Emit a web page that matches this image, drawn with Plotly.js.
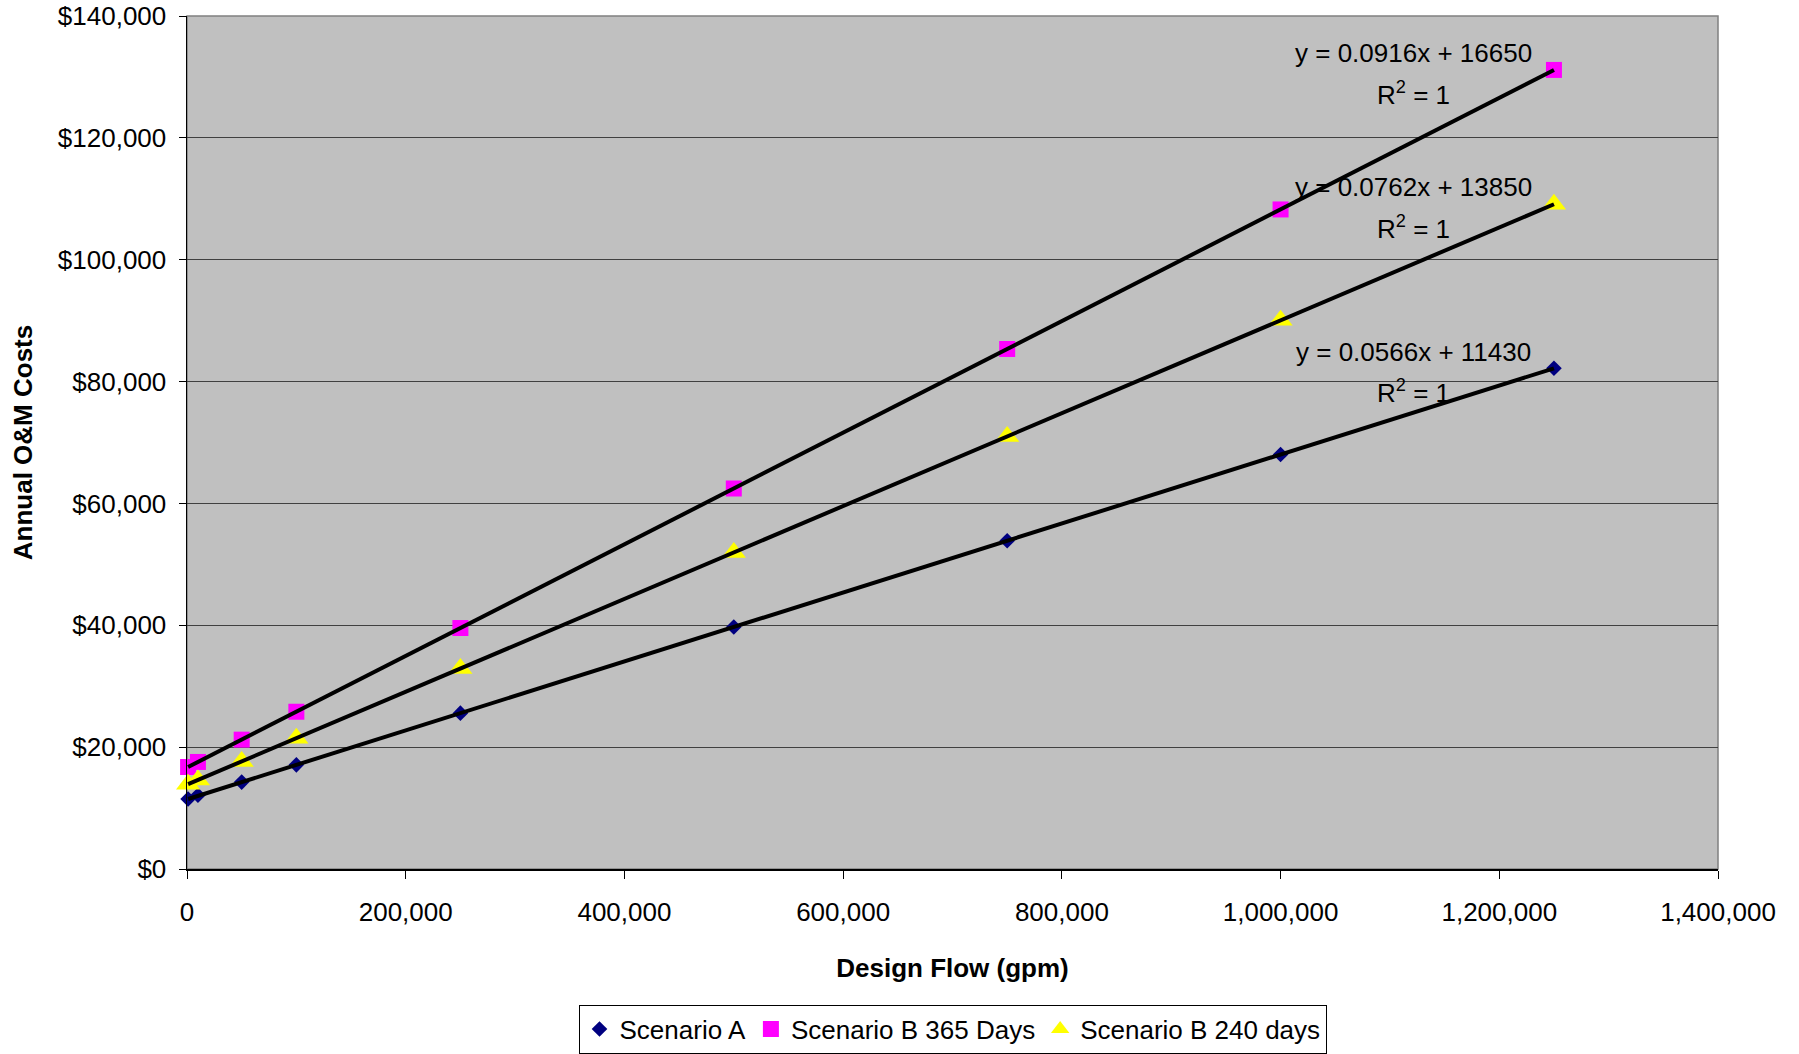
<!DOCTYPE html>
<html>
<head>
<meta charset="utf-8">
<script src="https://cdn.plot.ly/plotly-3.0.1.min.js"></script>
<style>html,body{margin:0;padding:0;background:#fff;}#chart{width:1799px;height:1054px;}</style>
</head>
<body>
<div id="chart"></div>
<script>
// ---- data ----
const designFlow = [1000, 10000, 50000, 100000, 250000, 500000, 750000, 1000000, 1250000];
const scenarioA = [11490, 12100, 14260, 17090, 25580, 39730, 53880, 68030, 82180];
const scenarioB365 = [16740, 17570, 21230, 25810, 39550, 62450, 85350, 108250, 131150];
const scenarioB240 = [13930, 14610, 17660, 21470, 32900, 51950, 71000, 90050, 109100];
const seriesNames = ["Scenario A", "Scenario B 365 Days", "Scenario B 240 days"];
const trendSlopes = [0.0566, 0.0916, 0.0762];
const trendIntercepts = [11430, 16650, 13850];
const equationLabels = ["y = 0.0566x + 11430", "y = 0.0916x + 16650", "y = 0.0762x + 13850"];
const r2Labels = ["R<sup>2</sup> = 1", "R<sup>2</sup> = 1", "R<sup>2</sup> = 1"];
const equationPosX = [1122000, 1122000, 1122000];
const equationPosY = [84850, 133930, 111930];
const r2PosY = [78290, 127360, 105370];
const xTitle = "Design Flow (gpm)";
const yTitle = "Annual O&M Costs";

const FONT = "Liberation Sans, Arial, Helvetica, sans-serif";
const markerStyles = [
  {symbol: "diamond", color: "#000080", size: 12},
  {symbol: "square", color: "#FF00FF", size: 16},
  {symbol: "triangle-up", color: "#FFFF00", size: 21}
];
const seriesValues = [scenarioA, scenarioB365, scenarioB240];

const traces = [];
seriesValues.forEach((vals, i) => {
  traces.push({
    type: "scatter", mode: "markers", name: seriesNames[i],
    x: designFlow, y: vals,
    marker: {symbol: markerStyles[i].symbol, color: markerStyles[i].color, size: markerStyles[i].size, line: {width: 0}},
    cliponaxis: false
  });
});
const xMin = Math.min(...designFlow), xMax = Math.max(...designFlow);
trendSlopes.forEach((m, i) => {
  traces.push({
    type: "scatter", mode: "lines", showlegend: false, hoverinfo: "skip",
    x: [xMin, xMax], y: [m * xMin + trendIntercepts[i], m * xMax + trendIntercepts[i]],
    line: {color: "#000000", width: 4}
  });
});

const annotations = [];
equationLabels.forEach((t, i) => {
  annotations.push({xref: "x", yref: "y", x: equationPosX[i], y: equationPosY[i], text: t, showarrow: false,
    xanchor: "center", yanchor: "middle", font: {family: FONT, size: 26, color: "#000"}});
  annotations.push({xref: "x", yref: "y", x: equationPosX[i], y: r2PosY[i], text: r2Labels[i], showarrow: false,
    xanchor: "center", yanchor: "middle", font: {family: FONT, size: 26, color: "#000"}});
});

const layout = {
  width: 1799, height: 1054,
  margin: {l: 187, r: 81, t: 16, b: 185, pad: 0, autoexpand: false},
  paper_bgcolor: "#ffffff",
  plot_bgcolor: "#C0C0C0",
  font: {family: FONT, size: 26, color: "#000"},
  showlegend: true,
  legend: {orientation: "h", x: 0.5, xanchor: "center", y: -0.159, yanchor: "top",
    bordercolor: "#000", borderwidth: 1, bgcolor: "#fff", font: {family: FONT, size: 26, color: "#000"}},
  xaxis: {
    range: [0, 1400000], dtick: 200000, tick0: 0, tickformat: ",",
    ticks: "outside", ticklen: 8, tickcolor: "#000", tickwidth: 1,
    showgrid: false, zeroline: false, showline: true, linecolor: "#000", linewidth: 1.5,
    ticklabelstandoff: 11,
    tickfont: {family: FONT, size: 26, color: "#000"},
    title: {text: xTitle, font: {family: FONT, size: 26, color: "#000", weight: "bold"}, standoff: 33}
  },
  yaxis: {
    range: [0, 140000], dtick: 20000, tick0: 0, tickformat: ",", tickprefix: "$",
    ticks: "outside", ticklen: 7, tickcolor: "#000", tickwidth: 1,
    showgrid: true, gridcolor: "#404040", gridwidth: 1,
    zeroline: false, showline: true, linecolor: "#000", linewidth: 1.5,
    ticklabelstandoff: 7,
    tickfont: {family: FONT, size: 26, color: "#000"},
    title: {text: yTitle, font: {family: FONT, size: 26, color: "#000", weight: "bold"}, standoff: 17}
  },
  shapes: [{type: "rect", xref: "paper", yref: "paper", x0: 0, x1: 1, y0: 0, y1: 1,
    line: {color: "#808080", width: 1.5}, fillcolor: "rgba(0,0,0,0)", layer: "below"}],
  annotations: annotations
};

Plotly.newPlot("chart", traces, layout, {displayModeBar: false, staticPlot: true});
</script>
</body>
</html>
